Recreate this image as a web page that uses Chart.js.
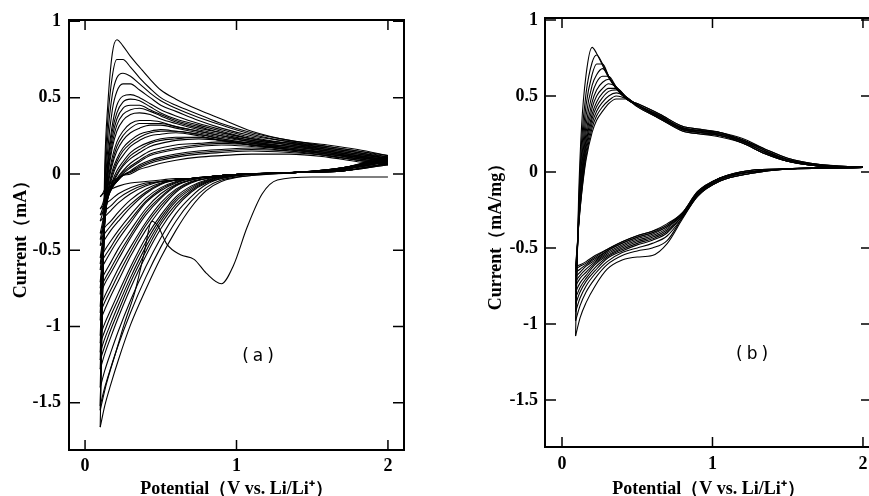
<!DOCTYPE html>
<html>
<head>
<meta charset="utf-8">
<script src="https://cdn.jsdelivr.net/npm/chart.js@4.4.0/dist/chart.umd.min.js"></script>
<style>
  html, body { margin: 0; padding: 0; background: #fff; overflow: hidden; }
  body { width: 869px; height: 496px; position: relative; }
  canvas { position: absolute; top: 0; }
  #cvA { left: 0; }
  #cvB { left: 430px; }
</style>
</head>
<body>
<canvas id="cvA" width="430" height="500"></canvas>
<canvas id="cvB" width="470" height="500"></canvas>
<script>
// tick labels
const xTicks = [0, 1, 2];
const yTicks = [1, 0.5, 0, -0.5, -1, -1.5];

// ---- panel (a) : potentials (V vs. Li/Li+) ----
const aCathX = [0.1, 0.13, 0.17, 0.22, 0.3, 0.4, 0.5, 0.6, 0.7, 0.8, 0.9, 1.1, 1.4, 1.7, 2.0];
const aAnodX = [0.1, 0.115, 0.13, 0.15, 0.18, 0.21, 0.25, 0.3, 0.36, 0.43, 0.5, 0.6, 0.75, 0.9, 1.1, 1.35, 1.6, 1.8, 2.0];

// first cathodic sweep (with the 0.9 V peak)
const aFirstX = [0.1, 0.14, 0.2, 0.26, 0.33, 0.39, 0.44, 0.48, 0.54, 0.63, 0.72, 0.8, 0.9, 0.98, 1.07, 1.17, 1.27, 1.5, 2.0];
const aFirstY = [-1.55, -1.38, -1.18, -0.98, -0.77, -0.52, -0.31, -0.34, -0.46, -0.53, -0.56, -0.65, -0.72, -0.6, -0.35, -0.13, -0.04, -0.02, -0.02];

// later cathodic sweeps (mA)
const aCath = [
  [-1.66, -1.52, -1.38, -1.22, -0.99, -0.76, -0.55, -0.37, -0.22, -0.11, -0.05, -0.01, 0.01, 0.04, 0.12],
  [-1.52, -1.40, -1.27, -1.12, -0.91, -0.68, -0.48, -0.31, -0.18, -0.09, -0.04, -0.01, 0.01, 0.04, 0.11],
  [-1.40, -1.29, -1.17, -1.03, -0.83, -0.61, -0.42, -0.26, -0.15, -0.07, -0.03, 0.00, 0.01, 0.04, 0.11],
  [-1.28, -1.18, -1.07, -0.94, -0.75, -0.54, -0.36, -0.22, -0.12, -0.06, -0.03, 0.00, 0.01, 0.04, 0.10],
  [-1.22, -1.13, -1.02, -0.90, -0.71, -0.51, -0.33, -0.20, -0.11, -0.055, -0.025, 0.00, 0.01, 0.04, 0.10],
  [-1.17, -1.08, -0.98, -0.86, -0.68, -0.48, -0.31, -0.18, -0.10, -0.05, -0.02, 0.00, 0.01, 0.04, 0.10],
  [-1.11, -1.03, -0.93, -0.82, -0.64, -0.45, -0.29, -0.165, -0.09, -0.045, -0.02, 0.00, 0.01, 0.035, 0.10],
  [-1.06, -0.98, -0.89, -0.78, -0.61, -0.42, -0.27, -0.15, -0.08, -0.04, -0.02, 0.00, 0.01, 0.03, 0.10],
  [-0.96, -0.89, -0.80, -0.70, -0.54, -0.37, -0.23, -0.12, -0.06, -0.03, -0.02, 0.00, 0.01, 0.03, 0.09],
  [-0.91, -0.84, -0.76, -0.66, -0.51, -0.34, -0.21, -0.11, -0.055, -0.03, -0.015, 0.00, 0.01, 0.03, 0.09],
  [-0.87, -0.80, -0.72, -0.62, -0.48, -0.32, -0.19, -0.10, -0.05, -0.03, -0.01, 0.00, 0.01, 0.03, 0.09],
  [-0.79, -0.72, -0.65, -0.56, -0.42, -0.27, -0.16, -0.08, -0.04, -0.02, -0.01, 0.00, 0.01, 0.03, 0.09],
  [-0.75, -0.69, -0.62, -0.53, -0.40, -0.25, -0.15, -0.075, -0.04, -0.02, -0.01, 0.00, 0.01, 0.03, 0.085],
  [-0.71, -0.65, -0.58, -0.49, -0.37, -0.23, -0.13, -0.07, -0.04, -0.02, -0.01, 0.00, 0.01, 0.03, 0.08],
  [-0.63, -0.58, -0.51, -0.43, -0.32, -0.19, -0.11, -0.06, -0.03, -0.02, -0.01, 0.00, 0.01, 0.03, 0.08],
  [-0.59, -0.54, -0.48, -0.40, -0.30, -0.18, -0.10, -0.055, -0.03, -0.02, -0.01, 0.00, 0.01, 0.03, 0.08],
  [-0.55, -0.50, -0.44, -0.37, -0.27, -0.16, -0.09, -0.05, -0.03, -0.02, -0.01, 0.00, 0.01, 0.03, 0.08],
  [-0.47, -0.43, -0.37, -0.31, -0.22, -0.13, -0.07, -0.04, -0.03, -0.02, -0.01, 0.00, 0.01, 0.02, 0.07],
  [-0.43, -0.39, -0.34, -0.28, -0.20, -0.12, -0.065, -0.04, -0.03, -0.02, -0.01, 0.00, 0.01, 0.02, 0.07],
  [-0.39, -0.35, -0.31, -0.25, -0.17, -0.10, -0.06, -0.04, -0.03, -0.02, -0.01, 0.00, 0.01, 0.02, 0.07],
  [-0.31, -0.28, -0.24, -0.19, -0.13, -0.08, -0.05, -0.04, -0.03, -0.02, -0.01, 0.00, 0.01, 0.02, 0.07],
  [-0.27, -0.24, -0.21, -0.16, -0.11, -0.07, -0.05, -0.04, -0.03, -0.02, -0.01, 0.00, 0.01, 0.02, 0.065],
  [-0.23, -0.20, -0.17, -0.13, -0.09, -0.06, -0.05, -0.04, -0.03, -0.02, -0.01, 0.00, 0.01, 0.02, 0.06],
  [-0.15, -0.12, -0.10, -0.08, -0.06, -0.05, -0.04, -0.03, -0.03, -0.02, -0.01, 0.00, 0.01, 0.02, 0.06]
];

// anodic sweeps, first cycle then the later ones (mA)
const aAnod = [
  [-1.55, -0.75, 0.05, 0.45, 0.79, 0.88, 0.84, 0.77, 0.70, 0.62, 0.55, 0.49, 0.42, 0.36, 0.28, 0.22, 0.19, 0.16, 0.12],
  [-1.66, -0.85, -0.05, 0.35, 0.64, 0.75, 0.75, 0.70, 0.63, 0.56, 0.50, 0.45, 0.39, 0.33, 0.27, 0.22, 0.18, 0.15, 0.12],
  [-1.52, -0.85, -0.12, 0.25, 0.52, 0.63, 0.66, 0.64, 0.59, 0.53, 0.48, 0.43, 0.37, 0.32, 0.26, 0.21, 0.18, 0.15, 0.11],
  [-1.40, -0.82, -0.18, 0.16, 0.42, 0.54, 0.59, 0.59, 0.55, 0.50, 0.45, 0.41, 0.35, 0.30, 0.25, 0.21, 0.17, 0.14, 0.11],
  [-1.28, -0.78, -0.22, 0.09, 0.32, 0.45, 0.51, 0.52, 0.50, 0.46, 0.42, 0.38, 0.33, 0.29, 0.24, 0.20, 0.17, 0.14, 0.10],
  [-1.22, -0.76, -0.24, 0.06, 0.28, 0.40, 0.47, 0.49, 0.48, 0.44, 0.40, 0.36, 0.32, 0.28, 0.23, 0.20, 0.17, 0.14, 0.10],
  [-1.17, -0.74, -0.26, 0.03, 0.24, 0.36, 0.43, 0.45, 0.45, 0.42, 0.39, 0.35, 0.31, 0.27, 0.23, 0.20, 0.16, 0.13, 0.10],
  [-1.11, -0.72, -0.27, 0.00, 0.20, 0.32, 0.39, 0.42, 0.43, 0.41, 0.38, 0.34, 0.30, 0.27, 0.23, 0.19, 0.16, 0.13, 0.10],
  [-1.06, -0.70, -0.28, -0.02, 0.17, 0.28, 0.35, 0.39, 0.40, 0.39, 0.36, 0.33, 0.29, 0.26, 0.22, 0.19, 0.16, 0.13, 0.10],
  [-0.96, -0.66, -0.30, -0.06, 0.11, 0.21, 0.28, 0.33, 0.35, 0.35, 0.34, 0.31, 0.28, 0.25, 0.22, 0.19, 0.15, 0.12, 0.09],
  [-0.91, -0.64, -0.30, -0.07, 0.08, 0.18, 0.25, 0.30, 0.33, 0.33, 0.33, 0.31, 0.28, 0.25, 0.21, 0.18, 0.15, 0.12, 0.09],
  [-0.87, -0.62, -0.31, -0.09, 0.06, 0.15, 0.22, 0.27, 0.30, 0.32, 0.32, 0.30, 0.27, 0.24, 0.21, 0.18, 0.15, 0.12, 0.09],
  [-0.79, -0.58, -0.32, -0.12, 0.02, 0.10, 0.17, 0.22, 0.26, 0.28, 0.29, 0.28, 0.26, 0.23, 0.20, 0.18, 0.15, 0.12, 0.09],
  [-0.75, -0.56, -0.32, -0.13, 0.00, 0.08, 0.15, 0.20, 0.24, 0.27, 0.28, 0.28, 0.26, 0.23, 0.20, 0.17, 0.14, 0.11, 0.085],
  [-0.71, -0.54, -0.32, -0.14, -0.02, 0.06, 0.12, 0.18, 0.22, 0.25, 0.26, 0.27, 0.25, 0.22, 0.20, 0.17, 0.14, 0.11, 0.08],
  [-0.63, -0.49, -0.31, -0.15, -0.05, 0.02, 0.08, 0.14, 0.18, 0.21, 0.23, 0.24, 0.24, 0.22, 0.19, 0.17, 0.14, 0.11, 0.08],
  [-0.59, -0.47, -0.30, -0.16, -0.06, 0.00, 0.06, 0.12, 0.16, 0.20, 0.22, 0.23, 0.24, 0.22, 0.19, 0.16, 0.14, 0.11, 0.08],
  [-0.55, -0.44, -0.29, -0.16, -0.07, -0.01, 0.05, 0.10, 0.14, 0.18, 0.20, 0.22, 0.23, 0.22, 0.19, 0.16, 0.13, 0.11, 0.08],
  [-0.47, -0.38, -0.26, -0.16, -0.08, -0.03, 0.02, 0.07, 0.11, 0.15, 0.17, 0.19, 0.20, 0.21, 0.19, 0.16, 0.13, 0.10, 0.07],
  [-0.43, -0.35, -0.25, -0.16, -0.09, -0.04, 0.01, 0.05, 0.09, 0.13, 0.15, 0.17, 0.19, 0.20, 0.19, 0.16, 0.13, 0.10, 0.07],
  [-0.39, -0.32, -0.23, -0.15, -0.09, -0.05, 0.00, 0.04, 0.08, 0.12, 0.14, 0.16, 0.18, 0.19, 0.18, 0.16, 0.13, 0.10, 0.07],
  [-0.31, -0.26, -0.19, -0.13, -0.08, -0.05, -0.01, 0.02, 0.06, 0.09, 0.11, 0.13, 0.15, 0.16, 0.17, 0.15, 0.12, 0.09, 0.07],
  [-0.27, -0.23, -0.17, -0.12, -0.08, -0.05, -0.01, 0.015, 0.05, 0.08, 0.10, 0.12, 0.14, 0.15, 0.16, 0.15, 0.12, 0.09, 0.065],
  [-0.23, -0.20, -0.15, -0.10, -0.07, -0.04, -0.01, 0.01, 0.04, 0.07, 0.09, 0.11, 0.13, 0.14, 0.15, 0.14, 0.12, 0.09, 0.06],
  [-0.15, -0.13, -0.10, -0.07, -0.05, -0.03, -0.01, 0.00, 0.03, 0.05, 0.07, 0.09, 0.11, 0.12, 0.13, 0.13, 0.11, 0.08, 0.06]
];

// ---- panel (b) ----
const bCathX = [0.09, 0.12, 0.16, 0.22, 0.3, 0.4, 0.5, 0.6, 0.7, 0.8, 0.9, 1.05, 1.25, 1.5, 2.0];
const bAnodX = [0.09, 0.1, 0.11, 0.13, 0.16, 0.2, 0.23, 0.27, 0.31, 0.36, 0.43, 0.5, 0.65, 0.8, 0.92, 1.05, 1.2, 1.35, 1.5, 1.7, 2.0];

// cathodic sweeps (mA/mg)
const bCath = [
  [-1.08, -0.96, -0.86, -0.75, -0.64, -0.58, -0.56, -0.55, -0.47, -0.31, -0.16, -0.06, -0.01, 0.02, 0.03],
  [-0.98, -0.88, -0.79, -0.70, -0.61, -0.55, -0.52, -0.50, -0.45, -0.30, -0.16, -0.06, -0.01, 0.02, 0.03],
  [-0.92, -0.83, -0.75, -0.67, -0.59, -0.53, -0.50, -0.47, -0.42, -0.30, -0.16, -0.06, -0.01, 0.02, 0.03],
  [-0.87, -0.79, -0.72, -0.65, -0.57, -0.52, -0.48, -0.45, -0.40, -0.29, -0.15, -0.05, 0.00, 0.02, 0.03],
  [-0.83, -0.76, -0.70, -0.63, -0.56, -0.51, -0.47, -0.44, -0.39, -0.29, -0.15, -0.05, 0.00, 0.02, 0.03],
  [-0.79, -0.73, -0.68, -0.61, -0.55, -0.50, -0.46, -0.43, -0.38, -0.29, -0.15, -0.05, 0.00, 0.02, 0.03],
  [-0.75, -0.70, -0.66, -0.60, -0.54, -0.49, -0.45, -0.42, -0.37, -0.28, -0.14, -0.05, 0.00, 0.02, 0.03],
  [-0.72, -0.68, -0.64, -0.59, -0.53, -0.48, -0.44, -0.41, -0.36, -0.28, -0.14, -0.04, 0.00, 0.02, 0.03],
  [-0.69, -0.66, -0.62, -0.58, -0.52, -0.47, -0.43, -0.40, -0.36, -0.28, -0.14, -0.04, 0.00, 0.02, 0.03],
  [-0.66, -0.64, -0.61, -0.57, -0.52, -0.47, -0.43, -0.40, -0.35, -0.27, -0.14, -0.04, 0.01, 0.02, 0.03],
  [-0.64, -0.62, -0.60, -0.56, -0.51, -0.46, -0.42, -0.39, -0.35, -0.27, -0.13, -0.04, 0.01, 0.02, 0.03],
  [-0.62, -0.61, -0.59, -0.55, -0.51, -0.46, -0.42, -0.39, -0.34, -0.27, -0.13, -0.04, 0.01, 0.02, 0.03]
];

// anodic sweeps (mA/mg)
const bAnod = [
  [-1.08, -0.62, -0.18, 0.30, 0.64, 0.82, 0.78, 0.70, 0.62, 0.55, 0.48, 0.45, 0.38, 0.30, 0.28, 0.26, 0.22, 0.15, 0.09, 0.05, 0.03],
  [-0.98, -0.62, -0.25, 0.20, 0.52, 0.72, 0.77, 0.71, 0.63, 0.55, 0.48, 0.45, 0.38, 0.30, 0.28, 0.26, 0.21, 0.15, 0.09, 0.05, 0.03],
  [-0.92, -0.60, -0.28, 0.12, 0.44, 0.64, 0.71, 0.71, 0.63, 0.55, 0.48, 0.44, 0.37, 0.29, 0.27, 0.26, 0.21, 0.14, 0.08, 0.05, 0.03],
  [-0.87, -0.58, -0.30, 0.06, 0.37, 0.57, 0.64, 0.68, 0.63, 0.55, 0.48, 0.44, 0.37, 0.29, 0.27, 0.25, 0.21, 0.14, 0.08, 0.045, 0.03],
  [-0.83, -0.57, -0.32, 0.01, 0.31, 0.51, 0.59, 0.63, 0.63, 0.56, 0.48, 0.44, 0.37, 0.29, 0.27, 0.25, 0.21, 0.14, 0.08, 0.045, 0.03],
  [-0.79, -0.56, -0.33, -0.03, 0.26, 0.46, 0.54, 0.59, 0.61, 0.56, 0.48, 0.44, 0.36, 0.29, 0.27, 0.25, 0.20, 0.13, 0.08, 0.045, 0.03],
  [-0.75, -0.55, -0.34, -0.06, 0.22, 0.42, 0.50, 0.55, 0.58, 0.56, 0.49, 0.44, 0.36, 0.28, 0.26, 0.25, 0.20, 0.13, 0.08, 0.04, 0.03],
  [-0.72, -0.54, -0.35, -0.08, 0.19, 0.38, 0.46, 0.52, 0.55, 0.55, 0.49, 0.44, 0.36, 0.28, 0.26, 0.24, 0.20, 0.13, 0.07, 0.04, 0.03],
  [-0.69, -0.53, -0.35, -0.10, 0.16, 0.35, 0.43, 0.49, 0.53, 0.54, 0.49, 0.44, 0.36, 0.28, 0.26, 0.24, 0.20, 0.13, 0.07, 0.04, 0.03],
  [-0.66, -0.52, -0.35, -0.12, 0.13, 0.32, 0.40, 0.46, 0.50, 0.52, 0.49, 0.44, 0.35, 0.28, 0.26, 0.24, 0.19, 0.12, 0.07, 0.04, 0.03],
  [-0.64, -0.51, -0.36, -0.14, 0.10, 0.29, 0.37, 0.43, 0.47, 0.50, 0.48, 0.43, 0.35, 0.27, 0.25, 0.24, 0.19, 0.12, 0.07, 0.04, 0.03],
  [-0.62, -0.50, -0.36, -0.15, 0.08, 0.26, 0.34, 0.40, 0.45, 0.48, 0.48, 0.43, 0.35, 0.27, 0.25, 0.23, 0.19, 0.12, 0.07, 0.04, 0.03]
];

const serif = "'Liberation Serif', 'Times New Roman', serif";

function sweep(xs, ys) {
    return {
        data: xs.map((x, i) => ({ x: x, y: ys[i] })),
        borderColor: '#000',
        borderWidth: 1.1,
        pointRadius: 0,
        fill: false,
        cubicInterpolationMode: 'monotone'
    };
}

// box, inward tick marks and the (a)/(b) tag
const framePlugin = {
    id: 'frame',
    afterDatasetsDraw(chart, args, opts) {
        const { ctx, chartArea: a, scales: { x, y } } = chart;
        ctx.save();
        ctx.strokeStyle = '#000';
        ctx.lineWidth = 2;
        ctx.strokeRect(a.left, a.top, a.right - a.left, a.bottom - a.top);
        ctx.lineWidth = 1.5;
        ctx.beginPath();
        x.ticks.forEach(t => {
            const p = x.getPixelForValue(t.value);
            ctx.moveTo(p, a.bottom); ctx.lineTo(p, a.bottom - 10);
            ctx.moveTo(p, a.top); ctx.lineTo(p, a.top + 10);
        });
        y.ticks.forEach(t => {
            const p = y.getPixelForValue(t.value);
            ctx.moveTo(a.left, p); ctx.lineTo(a.left + 11, p);
            ctx.moveTo(a.right, p); ctx.lineTo(a.right - 11, p);
        });
        ctx.stroke();
        ctx.fillStyle = '#000';
        ctx.font = "17px 'DejaVu Sans', sans-serif";
        ctx.letterSpacing = '4px';
        ctx.textAlign = 'center';
        ctx.textBaseline = 'middle';
        ctx.fillText(opts.text, x.getPixelForValue(opts.at[0]), y.getPixelForValue(opts.at[1]));
        ctx.restore();
    }
};

function panel(canvasId, datasets, p) {
    return new Chart(document.getElementById(canvasId), {
        type: 'line',
        data: { datasets: datasets },
        plugins: [framePlugin],
        options: {
            responsive: false,
            animation: false,
            events: [],
            layout: { padding: p.padding },
            plugins: {
                legend: { display: false },
                tooltip: { enabled: false },
                frame: { text: p.tag, at: p.tagAt }
            },
            scales: {
                x: {
                    type: 'linear',
                    min: p.xMin,
                    max: p.xMax,
                    afterBuildTicks: s => { s.ticks = xTicks.map(v => ({ value: v })); },
                    afterFit: s => { s.height = p.xHeight; },
                    grid: { display: false, drawTicks: false },
                    border: { display: false },
                    ticks: {
                        autoSkip: false,
                        maxRotation: 0,
                        padding: p.xPad,
                        color: '#000',
                        font: { family: serif, size: 18, weight: 'bold' },
                        callback: v => String(v)
                    },
                    title: {
                        display: true,
                        text: 'Potential（V vs. Li/Li⁺）',
                        color: '#000',
                        font: { family: serif, size: 18, weight: 'bold' },
                        padding: { top: 0, bottom: 0 }
                    }
                },
                y: {
                    type: 'linear',
                    min: -1.81,
                    max: p.yMax,
                    afterBuildTicks: s => { s.ticks = yTicks.map(v => ({ value: v })); },
                    afterFit: s => { s.width = p.yWidth; },
                    grid: { display: false, drawTicks: false },
                    border: { display: false },
                    ticks: {
                        autoSkip: false,
                        padding: p.yPad,
                        color: '#000',
                        font: { family: serif, size: 18, weight: 'bold' },
                        callback: v => String(v)
                    },
                    title: {
                        display: true,
                        text: p.yTitle,
                        color: '#000',
                        font: { family: serif, size: 18, weight: 'bold' },
                        padding: { top: p.yTitlePad, bottom: 0 }
                    }
                }
            }
        }
    });
}

// panel (a)
let dsA = [sweep(aFirstX, aFirstY), sweep(aAnodX, aAnod[0])];
aCath.forEach((row, i) => {
    dsA.push(sweep(aCathX, row));
    dsA.push(sweep(aAnodX, aAnod[i + 1]));
});

const chartA = panel('cvA', dsA, {
    padding: { left: 0, top: 20, right: 26, bottom: 0 },
    xMin: -0.106, xMax: 2.106, yMax: 1.009,
    xHeight: 50, yWidth: 69, xPad: 6, yPad: 8, yTitlePad: 11,
    yTitle: 'Current（mA）',
    tag: '(a)', tagAt: [1.155, -1.2]
});

// panel (b)
let dsB = [];
bCath.forEach((row, i) => {
    dsB.push(sweep(bCathX, row));
    dsB.push(sweep(bAnodX, bAnod[i]));
});

const chartB = panel('cvB', dsB, {
    padding: { left: 55, top: 18, right: 28, bottom: 0 },
    xMin: -0.113, xMax: 2.06, yMax: 1.013,
    xHeight: 53, yWidth: 60, xPad: 7, yPad: 7, yTitlePad: 1,
    yTitle: 'Current（mA/mg）',
    tag: '(b)', tagAt: [1.276, -1.2]
});
</script>
</body>
</html>
